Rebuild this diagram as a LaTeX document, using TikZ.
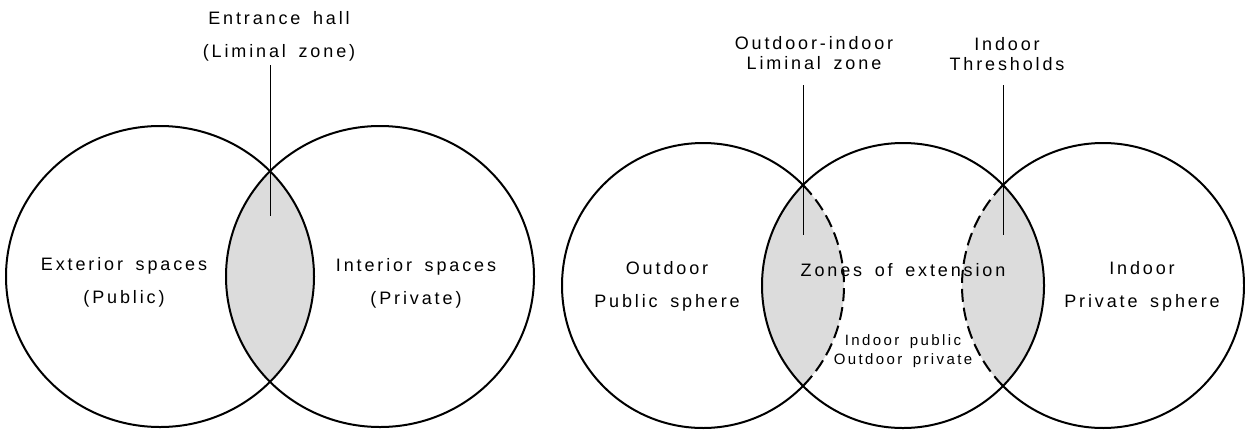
\documentclass[tikz,border=0pt]{standalone}
\usepackage{fontspec}
\setmainfont{Liberation Sans}
\newfontfamily\tagfont{Liberation Sans}[LetterSpace=16,WordSpace=1.6]
\usepackage{tikz}
\definecolor{lensgray}{RGB}{220,220,220}

\begin{document}
\begin{tikzpicture}[x=.5pt,y=-.5pt,
    ring/.style={line width=1pt},
    hidden/.style={line width=1pt,dash pattern=on 6.5pt off 3pt},
    pointer/.style={line width=.5pt},
    tag/.style={font=\tagfont\fontsize{9}{16.5}\selectfont,align=center,inner sep=0pt},
    tighttag/.style={tag,font=\tagfont\fontsize{9}{10}\selectfont},
    smalltag/.style={tag,font=\tagfont\fontsize{7.5}{9.5}\selectfont}]
  \useasboundingbox (0,0) rectangle (1245,429);
  \pgfmathsetmacro\cut{acos(100/141)}
  \coordinate (ext) at (160,276.5);
  \coordinate (int) at (380,276.5);
  \coordinate (out) at (703,285.5);
  \coordinate (mid) at (903,285.5);
  \coordinate (in) at (1103,285.5);
  \begin{scope}
    \clip (ext) ellipse [x radius=154,y radius=150.5];
    \fill[lensgray] (int) ellipse [x radius=154,y radius=150.5];
  \end{scope}
  \begin{scope}
    \clip (mid) ellipse [x radius=141,y radius=142.5];
    \fill[lensgray] (out) ellipse [x radius=141,y radius=142.5];
    \fill[lensgray] (in) ellipse [x radius=141,y radius=142.5];
  \end{scope}
  \draw[ring] (ext) ellipse [x radius=154,y radius=150.5];
  \draw[ring] (int) ellipse [x radius=154,y radius=150.5];
  \draw[ring] (mid) ellipse [x radius=141,y radius=142.5];
  \draw[ring] (out) ++(\cut:141 and 142.5) arc[start angle=\cut,end angle=360-\cut,x radius=141,y radius=142.5];
  \draw[hidden] (out) ++(-\cut:141 and 142.5) arc[start angle=-\cut,end angle=\cut,x radius=141,y radius=142.5];
  \draw[ring] (in) ++(180+\cut:141 and 142.5) arc[start angle=180+\cut,end angle=540-\cut,x radius=141,y radius=142.5];
  \draw[hidden] (in) ++(180-\cut:141 and 142.5) arc[start angle=180-\cut,end angle=180+\cut,x radius=141,y radius=142.5];

  \coordinate (hallTop) at (270,65);
  \coordinate (hallFoot) at (270,216);
  \coordinate (liminalTop) at (803,85);
  \coordinate (liminalFoot) at (803,235);
  \coordinate (threshTop) at (1003,85);
  \coordinate (threshFoot) at (1003,235);
  \draw[pointer] (hallTop) -- (hallFoot);
  \draw[pointer] (liminalTop) -- (liminalFoot);
  \draw[pointer] (threshTop) -- (threshFoot);

  \node[tag] (hall) at (279,36) {Entrance hall\\(Liminal zone)};
  \node[tag] (exterior) at (124,282) {Exterior spaces\\(Public)};
  \node[tag] (interior) at (416,283) {Interior spaces\\(Private)};
  \node[tighttag] (liminal) at (814,53) {Outdoor-indoor\\Liminal zone};
  \node[tighttag] (thresh) at (1007,54) {Indoor\\Thresholds};
  \node[tag] (outdoor) at (667,286) {Outdoor\\Public sphere};
  \node[tag] (zones) at (903,270) {Zones of extension};
  \node[tag] (indoor) at (1142,286) {Indoor\\Private sphere};
  \node[smalltag] (mixed) at (903,351) {Indoor public\\Outdoor private};
\end{tikzpicture}
\end{document}
